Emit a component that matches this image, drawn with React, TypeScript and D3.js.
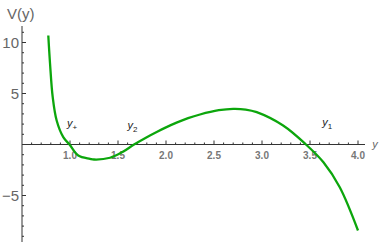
import React from "react";
import * as d3 from "d3";

const curveX = [0.774, 0.792, 0.82, 0.861, 0.93, 0.995, 1.086, 1.208, 1.25, 1.417, 1.55, 1.667, 1.8, 1.903, 2.0, 2.11, 2.23, 2.354, 2.55, 2.7, 2.83, 2.945, 3.22, 3.458, 3.64, 3.81, 4.0];
const curveY = [10.69, 7.94, 4.64, 2.35, 0.72, 0, -1.08, -1.4, -1.47, -1.3, -0.72, 0, 0.72, 1.23, 1.68, 2.14, 2.58, 2.94, 3.36, 3.5, 3.43, 3.17, 1.86, 0, -1.74, -4.19, -8.43];
const xTicks = [1.0, 1.5, 2.0, 2.5, 3.0, 3.5, 4.0];
const yTicks = [-5, 5, 10];
const rootLabels = [
  { x: 1.0, y: 1.7, main: "y", sub: "+" },
  { x: 1.63, y: 1.55, main: "y", sub: "2" },
  { x: 3.66, y: 1.8, main: "y", sub: "1" },
];

export default function App() {
  const W = 382, H = 244;
  const x = d3.scaleLinear().domain([0.5, 4.0]).range([22, 358]);
  const y = d3.scaleLinear().domain([0, 10]).range([144.5, 42.5]);
  const pts = curveX.map((v, i) => [v, curveY[i]] as [number, number]);
  const line = d3.line<[number, number]>().x(d => x(d[0])).y(d => y(d[1])).curve(d3.curveCatmullRom.alpha(0.5));
  const minorX = d3.range(0.6, 4.05, 0.1).map(v => Math.round(v * 10) / 10);
  const minorY = d3.range(-9, 12, 1);
  const axisColor = "#333";
  const labelColor = "#666";
  return (
    <svg width={W} height={H} style={{ position: "absolute", left: 0, top: 0 }} fontFamily="Liberation Sans, Arial, sans-serif">
      <line x1={22} x2={365} y1={y(0)} y2={y(0)} stroke={axisColor} strokeWidth={1} />
      {minorX.map(v => {
        const major = Math.abs(v * 2 - Math.round(v * 2)) < 1e-6;
        return <line key={"mx" + v} x1={x(v)} x2={x(v)} y1={y(0)} y2={y(0) - (major ? 4 : 2)} stroke={axisColor} strokeWidth={1} />;
      })}
      {xTicks.map(v => (
        <text key={"xt" + v} x={x(v)} y={y(0) + 14} textAnchor="middle" fontSize={10} fontWeight="bold" fill="#777">{v.toFixed(1)}</text>
      ))}
      <text x={375} y={y(0) + 3} fontSize={11} fontStyle="italic" fill={labelColor} textAnchor="middle">y</text>
      <line x1={22} x2={22} y1={26} y2={242} stroke={axisColor} strokeWidth={1} />
      {minorY.map(v => {
        const major = v % 5 === 0;
        return <line key={"my" + v} x1={22} x2={22 + (major ? 4 : 2)} y1={y(v)} y2={y(v)} stroke={axisColor} strokeWidth={1} />;
      })}
      {yTicks.map(v => (
        <text key={"yt" + v} x={19} y={y(v) + 5.5} textAnchor="end" fontSize={15} fill={labelColor}>{v < 0 ? "\u2212" + Math.abs(v) : String(v)}</text>
      ))}
      <text x={7} y={19} fontSize={15} fill={labelColor}>V(y)</text>
      <path d={line(pts) || ""} fill="none" stroke="#0ca60c" strokeWidth={2.3} strokeLinejoin="round" />
      {rootLabels.map((l, i) => (
        <text key={"rl" + i} x={x(l.x) - 3} y={y(l.y)} fontSize={11} fontStyle="italic" fill="#222">
          {l.main}
          <tspan dy={3} fontSize={8} fontStyle="normal">{l.sub}</tspan>
        </text>
      ))}
    </svg>
  );
}
